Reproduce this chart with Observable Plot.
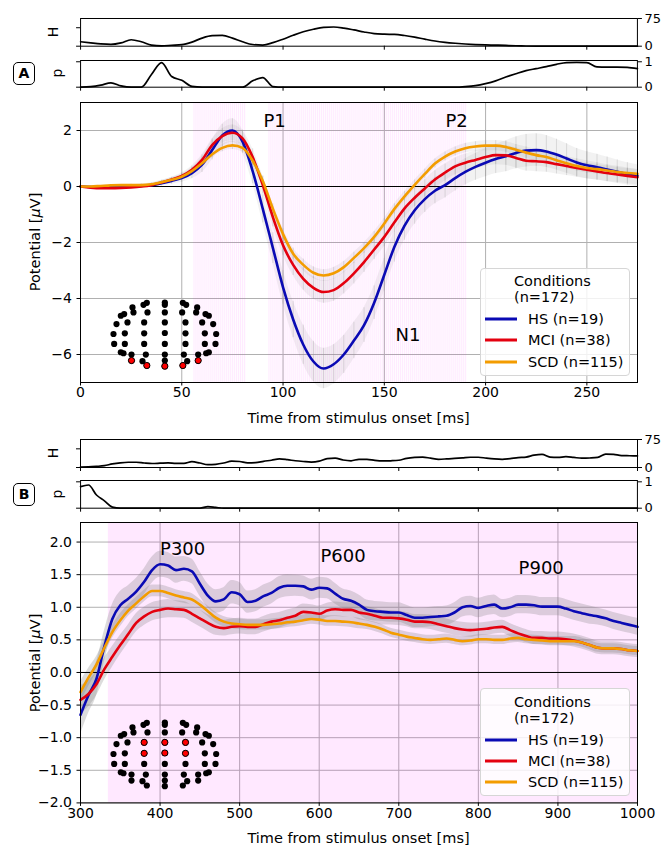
<!DOCTYPE html>
<html><head><meta charset="utf-8">
<script src="https://cdn.jsdelivr.net/npm/d3@7"></script>
<script src="https://cdn.jsdelivr.net/npm/@observablehq/plot@0.6"></script>
<style>
body{margin:0;background:#fff;font-family:"DejaVu Sans",sans-serif;color:#000;}
#root{position:relative;width:665px;height:847px;overflow:hidden;background:#fff;}
.abs{position:absolute;}
.rot{position:absolute;transform:translate(-50%,-50%) rotate(-90deg);white-space:nowrap;line-height:1;}
.hl{position:absolute;transform:translate(-50%,-50%);white-space:nowrap;line-height:1;}
.box{position:absolute;border:1.5px solid #000;border-radius:5px;font-weight:bold;font-size:14px;text-align:center;box-sizing:border-box;}
.leg{position:absolute;background:rgba(255,255,255,0.82);border:1px solid #d6d6d6;border-radius:4px;box-sizing:border-box;font-size:14.5px;}
.leg div{position:absolute;white-space:nowrap;line-height:1;transform:translateY(-50%);}
.leg span.h{position:absolute;height:3px;transform:translateY(-50%);}
</style></head>
<body><div id="root"></div>
<script>
// ---------------- data ----------------
const groups = ["HS (n=19)", "MCI (n=38)", "SCD (n=115)"];
const colors = ["#0a0ab4", "#e4000f", "#f39c00"];
const nTotal = "(n=172)";

// Panel A (early ERP)
const tA = [0,5,10,15,20,25,30,35,40,45,50,55,60,65,70,75,80,85,90,95,100,105,110,115,120,125,130,135,140,145,150,155,160,165,170,175,180,185,190,195,200,205,210,215,220,225,230,235,240,245,250,255,260,265,270,275];
const hsA  = [0,-0.02,-0.03,-0.03,-0.02,0,0.02,0.05,0.12,0.2, 0.3,0.48,0.78,1.3,1.82,2.0,1.6,0.55,-0.8,-2.2, -3.6,-4.75,-5.65,-6.25,-6.5,-6.35,-6.0,-5.5,-4.95,-4.15, -3.15,-2.15,-1.4,-0.85,-0.45,-0.15,0.05,0.3,0.52,0.7, 0.85,0.98,1.08,1.2,1.28,1.3,1.25,1.14,1.0,0.86, 0.76,0.69,0.61,0.53,0.45,0.38];
const mciA = [0,-0.04,-0.06,-0.06,-0.05,-0.03,0,0.05,0.14,0.25, 0.38,0.6,0.95,1.48,1.8,1.92,1.72,1.05,0.05,-1.1, -2.1,-2.8,-3.3,-3.62,-3.77,-3.7,-3.45,-3.1,-2.7,-2.25, -1.8,-1.28,-0.78,-0.4,-0.07,0.25,0.5,0.72,0.85,0.95, 1.05,1.12,1.11,1.02,0.92,0.9,0.87,0.8,0.73,0.66, 0.6,0.54,0.48,0.43,0.38,0.33];
const scdA = [0,0,0.02,0.04,0.05,0.05,0.05,0.08,0.15,0.24, 0.35,0.55,0.83,1.15,1.38,1.47,1.38,0.92,0.2,-0.8, -1.7,-2.4,-2.8,-3.08,-3.18,-3.1,-2.88,-2.55,-2.2,-1.8, -1.32,-0.8,-0.35,0.06,0.45,0.82,1.07,1.25,1.37,1.43, 1.46,1.46,1.41,1.31,1.21,1.12,1.05,0.94,0.83,0.73, 0.66,0.62,0.57,0.52,0.48,0.45];
const semHsA  = [0.03,0.04,0.05,0.05,0.06,0.06,0.07,0.08,0.1,0.12, 0.15,0.2,0.28,0.35,0.4,0.42,0.42,0.45,0.5,0.55, 0.6,0.65,0.7,0.72,0.72,0.7,0.68,0.65,0.62,0.6, 0.58,0.55,0.52,0.5,0.48,0.47,0.46,0.46,0.47,0.48, 0.5,0.52,0.55,0.57,0.58,0.58,0.57,0.55,0.53,0.5, 0.48,0.46,0.44,0.42,0.4,0.4];
const semMciA = [0.02,0.03,0.03,0.03,0.04,0.04,0.05,0.05,0.07,0.08, 0.1,0.13,0.18,0.22,0.26,0.28,0.28,0.3,0.32,0.34, 0.36,0.38,0.4,0.4,0.4,0.4,0.39,0.38,0.37,0.36, 0.35,0.34,0.33,0.32,0.31,0.31,0.3,0.3,0.31,0.32, 0.33,0.34,0.35,0.36,0.37,0.37,0.36,0.35,0.34,0.33, 0.32,0.31,0.3,0.29,0.28,0.28];
const semScdA = [0.01,0.02,0.02,0.02,0.02,0.03,0.03,0.03,0.04,0.05, 0.06,0.08,0.1,0.12,0.14,0.15,0.15,0.16,0.17,0.18, 0.19,0.2,0.21,0.21,0.21,0.21,0.2,0.2,0.19,0.19, 0.18,0.18,0.17,0.17,0.17,0.16,0.16,0.16,0.17,0.17, 0.18,0.18,0.19,0.19,0.2,0.2,0.2,0.19,0.19,0.18, 0.18,0.17,0.17,0.16,0.16,0.16];
const hA = [12,9,6.3,5,9,17.5,12,3,1,2.5, 4,11,22,28.5,29.2,22,12,4.5,3,9.5, 19,29.5,39,46,51,52,49,44,38.5,34, 32.5,32,29,24.5,19,14,10.5,8,6,4.5, 3.5,2.8,2,1.2,0.5,0.2,0,0,0,0, 0,0,0,0,0,0];
const pA = [0,0.02,0.08,0.17,0.05,0,0,0.5,0.97,0.42, 0.27,0.03,0,0,0,0,0,0.25,0.38,0.02, 0,0,0,0,0,0,0,0,0,0, 0,0,0,0,0,0,0,0,0.02,0.06, 0.14,0.25,0.4,0.53,0.65,0.73,0.81,0.9,0.97,0.98, 0.97,0.8,0.79,0.79,0.78,0.73];
const sigStartA = [56, 93];
const sigEndA = [82, 191];
const annTextA = ["P1", "P2", "N1"];
const annXA = [90.3, 180.2, 155.5];
const annYA = [2.32, 2.32, -5.32];

// Panel B (late ERP)
const tB = [300,310,320,330,340,350,360,370,380,390,400,410,420,430,440,450,460,470,480,490,500,510,520,530,540,550,560,570,580,590,600,610,620,630,640,650,660,670,680,690,700,710,720,730,740,750,760,770,780,790,800,810,820,830,840,850,860,870,880,890,900,910,920,930,940,950,960,970,980,990,1000];
const hsB  = [-0.65,-0.35,-0.1,0.4,0.82,1.03,1.13,1.24,1.39,1.57, 1.66,1.64,1.57,1.59,1.55,1.36,1.18,1.09,1.12,1.23, 1.2,1.08,1.1,1.17,1.22,1.3,1.33,1.33,1.32,1.27, 1.3,1.29,1.21,1.13,1.1,1.04,0.96,0.94,0.93,0.92, 0.92,0.88,0.84,0.84,0.85,0.86,0.87,0.92,1.0,1.02, 0.99,1.02,1.04,0.98,1.0,1.04,1.04,1.03,1.01,1.01, 1.01,0.98,0.94,0.91,0.88,0.86,0.83,0.79,0.76,0.73, 0.7];
const mciB = [-0.42,-0.33,-0.18,0.05,0.24,0.42,0.59,0.76,0.86,0.93, 0.96,0.98,0.97,0.96,0.9,0.83,0.76,0.7,0.68,0.7, 0.71,0.7,0.7,0.74,0.78,0.8,0.84,0.87,0.93,0.92, 0.9,0.95,0.97,0.96,0.96,0.92,0.9,0.87,0.84,0.84, 0.83,0.81,0.78,0.78,0.77,0.74,0.71,0.68,0.66,0.65, 0.66,0.67,0.69,0.7,0.65,0.6,0.56,0.53,0.53,0.52, 0.52,0.51,0.49,0.46,0.42,0.38,0.37,0.37,0.36,0.34, 0.33];
const scdB = [-0.3,-0.08,0.12,0.38,0.62,0.8,0.95,1.06,1.17,1.25, 1.25,1.22,1.18,1.15,1.12,1.04,0.94,0.84,0.78,0.75, 0.74,0.73,0.73,0.73,0.74,0.75,0.77,0.78,0.8,0.82, 0.81,0.79,0.79,0.78,0.77,0.75,0.73,0.7,0.66,0.61, 0.58,0.55,0.53,0.51,0.5,0.51,0.52,0.5,0.48,0.49, 0.51,0.51,0.5,0.5,0.52,0.53,0.51,0.5,0.49,0.48, 0.48,0.48,0.48,0.46,0.42,0.38,0.37,0.37,0.36,0.34, 0.33];
const semHsB  = [0.3,0.28,0.26,0.24,0.22,0.21,0.2,0.2,0.2,0.2, 0.2,0.2,0.2,0.19,0.19,0.19,0.18,0.18,0.18,0.18, 0.18,0.17,0.17,0.17,0.17,0.17,0.17,0.16,0.16,0.16, 0.16,0.16,0.16,0.15,0.15,0.15,0.15,0.15,0.15,0.15, 0.15,0.15,0.15,0.15,0.15,0.15,0.15,0.15,0.15,0.15, 0.15,0.15,0.15,0.14,0.14,0.14,0.14,0.14,0.14,0.14, 0.14,0.14,0.14,0.14,0.14,0.13,0.13,0.13,0.13,0.13, 0.13];
const semMciB = [0.22,0.2,0.18,0.17,0.16,0.15,0.14,0.14,0.14,0.14, 0.14,0.14,0.13,0.13,0.13,0.13,0.13,0.13,0.12,0.12, 0.12,0.12,0.12,0.12,0.12,0.12,0.12,0.12,0.12,0.12, 0.12,0.11,0.11,0.11,0.11,0.11,0.11,0.11,0.11,0.11, 0.11,0.11,0.11,0.11,0.11,0.11,0.11,0.11,0.11,0.11, 0.1,0.1,0.1,0.1,0.1,0.1,0.1,0.1,0.1,0.1, 0.1,0.1,0.1,0.1,0.1,0.1,0.1,0.1,0.1,0.1, 0.1];
const semScdB = [0.16,0.14,0.12,0.11,0.1,0.1,0.09,0.09,0.09,0.09, 0.09,0.09,0.09,0.09,0.09,0.08,0.08,0.08,0.08,0.08, 0.08,0.08,0.08,0.08,0.08,0.08,0.08,0.08,0.08,0.08, 0.08,0.08,0.08,0.08,0.08,0.08,0.07,0.07,0.07,0.07, 0.07,0.07,0.07,0.07,0.07,0.07,0.07,0.07,0.07,0.07, 0.07,0.07,0.07,0.07,0.07,0.07,0.07,0.07,0.07,0.07, 0.07,0.07,0.07,0.07,0.07,0.07,0.07,0.07,0.07,0.07, 0.07];
const hB = [1,1.5,3,5,9.5,12.5,14,14,12,10.7, 11.5,12.5,11,11,15.5,12,7.5,8.5,12,17, 16,12.5,13,16.5,19.5,23,21,18,16,14.5, 17,24,25,20,18,22,22,19,17.5,18, 19.5,24.5,27,28,25,22,23,24.5,26,27.5, 27.5,25,23,22,24,26.5,28,33,35,28, 27,29,27,25,25.5,27,36,35,32,31.5, 31];
const pB = [0.82,0.88,0.5,0.28,0.04,0,0,0,0,0, 0,0,0,0,0,0,0.06,0.03,0,0, 0,0,0,0,0,0,0,0,0,0, 0,0,0,0,0,0,0,0,0,0, 0,0,0,0,0,0,0,0,0,0, 0,0,0,0,0,0,0,0,0,0, 0,0,0,0,0,0,0,0,0,0, 0];
const sigStartB = [335];
const sigEndB = [1000];
const annTextB = ["P300", "P600", "P900"];
const annXB = [400, 601.5, 850.6];
const annYB = [1.89, 1.79, 1.6];

// Electrode layout (schematic head, arbitrary units, y downwards)
const elecX = [312,312,312,312,312,312,312,312,312, 258,248,260,215,218,190,180,200,250,167,158,192,250,160,192,250,180,188,212,255,212,245,258, 366,376,364,409,406,434,444,424,374,457,466,432,374,464,432,374,444,436,412,369,412,379,366];
const elecY = [65,72,95,125,157,190,222,240,257, 66,72,95,80,95,100,105,125,125,130,160,158,158,190,190,190,215,218,222,222,240,242,255, 66,72,95,80,95,100,105,125,125,130,160,158,158,190,190,190,215,218,222,222,240,242,255];
const redAX = [212,258,312,366,412];
const redAY = [240,255,257,255,240];
const redBX = [250,312,374,250,312,374];
const redBY = [125,125,125,158,157,158];

// ---------------- helpers ----------------
const FONT = "DejaVu Sans";
const plain = d => String(d);
const root = document.getElementById("root");
function place(node, left, top) {
  const d = document.createElement("div");
  d.className = "abs"; d.style.left = left + "px"; d.style.top = top + "px";
  d.appendChild(node); root.appendChild(d); return d;
}
function addHTML(html) { root.insertAdjacentHTML("beforeend", html); }
function longRows(t, series, sems) {
  const out = [];
  groups.forEach((g, i) => t.forEach((x, j) => out.push({t: x, v: series[i][j], lo: series[i][j] - sems[i][j], hi: series[i][j] + sems[i][j], g})));
  return out;
}

function mainPlot(o) {
  const data = longRows(o.t, o.series, o.sems);
  const sig = o.sigStart.map((s, i) => ({s, e: o.sigEnd[i]}));
  const ann = o.annText.map((s, i) => ({s, x: o.annX[i], y: o.annY[i]}));
  const mt = 10, mb = 30;
  const marks = [
    Plot.gridX({ticks: o.xTicks, stroke: "#b0b0b0", strokeOpacity: 1, strokeWidth: 1}),
    Plot.gridY({ticks: o.yTicks, stroke: "#b0b0b0", strokeOpacity: 1, strokeWidth: 1}),
    Plot.rectX(sig, {x1: "s", x2: "e", fill: "#ff00ff", fillOpacity: o.sigOpacity})
  ];
  if (o.stripes) {
    const st = sig.flatMap(d => d3.range(d.s, d.e, 1));
    marks.push(Plot.ruleX(st, {stroke: "#ff00ff", strokeOpacity: 0.065, strokeWidth: 1}));
  }
  marks.push(
    Plot.areaY(data, {x: "t", y1: "lo", y2: "hi", z: "g", fill: "#808080", fillOpacity: o.bandOpacity, curve: "monotone-x"})
  );
  if (o.errRules) marks.push(Plot.ruleX(data, {x: "t", y1: "lo", y2: "hi", stroke: "#9a9a9a", strokeOpacity: 0.3, strokeWidth: 1}));
  marks.push(
    Plot.ruleY([0], {stroke: "#000", strokeWidth: 1}),
    Plot.line(data, {x: "t", y: "v", z: "g", stroke: "g", strokeWidth: 2.6, curve: "monotone-x"}),
    Plot.text(ann, {x: "x", y: "y", text: "s", textAnchor: "start", fontSize: 18, fill: "#000"}),
    Plot.frame({stroke: "#000", strokeWidth: 1}),
    Plot.axisX({ticks: o.xTicks, tickSize: 3.5, tickPadding: 1.5, label: null, fontSize: 14, tickFormat: plain}),
    Plot.axisY({ticks: o.yTicks, tickSize: 3.5, tickPadding: 5, label: null, fontSize: 14, tickFormat: o.yFormat})
  );
  const svg = Plot.plot({
    width: 665, height: mt + (o.fb - o.ft) + mb,
    marginLeft: 80, marginRight: 28, marginTop: mt, marginBottom: mb,
    style: {fontFamily: FONT, fontSize: "14px", background: "transparent", overflow: "visible", color: "#000"},
    x: {domain: o.xDomain}, y: {domain: o.yDomain},
    color: {domain: groups, range: colors},
    marks
  });
  place(svg, 0, o.ft - mt);
}

function stripPlot(o) {
  const data = o.t.map((x, i) => ({t: x, v: o.values[i]}));
  const mt = 10, mb = 8;
  const svg = Plot.plot({
    width: 665, height: mt + (o.fb - o.ft) + mb,
    marginLeft: 80, marginRight: 28, marginTop: mt, marginBottom: mb,
    style: {fontFamily: FONT, fontSize: "13px", background: "transparent", overflow: "visible", color: "#000"},
    x: {domain: o.xDomain}, y: {domain: o.yDomain},
    marks: [
      Plot.line(data, {x: "t", y: "v", stroke: "#000", strokeWidth: 1.7, curve: "monotone-x"}),
      Plot.frame({stroke: "#000", strokeWidth: 1}),
      Plot.axisX({ticks: o.xTicks, tickSize: 4, tickFormat: () => "", label: null}),
      Plot.axisY({ticks: o.leftTicks, anchor: "left", tickSize: 4, tickFormat: () => "", label: null}),
      Plot.axisY({ticks: o.rightTicks, anchor: "right", tickSize: 4, tickPadding: 3, label: null, fontSize: 13, tickFormat: plain})
    ]
  });
  place(svg, 0, o.ft - mt);
}

function headPlot(left, top, redX, redY) {
  const all = elecX.map((x, i) => ({x, y: elecY[i]}));
  const red = redX.map((x, i) => ({x, y: redY[i]}));
  const svg = Plot.plot({
    width: 115, height: 73, margin: 0,
    style: {background: "transparent", overflow: "visible"},
    x: {domain: [140, 485], axis: null},
    y: {domain: [50, 270], reverse: true, axis: null},
    marks: [
      Plot.dot(all, {x: "x", y: "y", r: 3.1, fill: "#000"}),
      Plot.dot(red, {x: "x", y: "y", r: 3.1, fill: "#ff0000", stroke: "#000", strokeWidth: 1})
    ]
  });
  place(svg, left, top);
}

function legend(left, top) {
  const rowsY = [50.3, 71.7, 93.2];
  let h = `<div class="leg" style="left:${left}px;top:${top}px;width:150px;height:108px">`;
  h += `<div style="left:33px;top:12.3px">Conditions</div><div style="left:33px;top:28.8px">${nTotal}</div>`;
  groups.forEach((g, i) => {
    h += `<span class="h" style="left:4px;top:${rowsY[i]}px;width:32px;background:${colors[i]}"></span>`;
    h += `<div style="left:47px;top:${rowsY[i]}px">${g}</div>`;
  });
  h += `</div>`;
  addHTML(h);
}

// ---------------- Panel A ----------------
stripPlot({t: tA, values: hA, xDomain: [0, 275], xTicks: [0,50,100,150,200,250], yDomain: [0, 75], leftTicks: [0, 50], rightTicks: [0, 75], ft: 18.3, fb: 46});
stripPlot({t: tA, values: pA, xDomain: [0, 275], xTicks: [0,50,100,150,200,250], yDomain: [0, 1.05], leftTicks: [0, 1], rightTicks: [0, 1], ft: 60, fb: 86.7});
mainPlot({t: tA, series: [hsA, mciA, scdA], sems: [semHsA, semMciA, semScdA],
  xDomain: [0, 275], xTicks: [0,50,100,150,200,250], yDomain: [-7, 3], yTicks: [-6,-4,-2,0,2], yFormat: undefined,
  sigStart: sigStartA, sigEnd: sigEndA, sigOpacity: 0.015, stripes: true, bandOpacity: 0.1, errRules: true,
  annText: annTextA, annX: annXA, annY: annYA, ft: 102.3, fb: 382.3});
headPlot(106.7, 296.7, redAX, redAY);
legend(480, 267.7);

// ---------------- Panel B ----------------
stripPlot({t: tB, values: hB, xDomain: [300, 1000], xTicks: [300,400,500,600,700,800,900,1000], yDomain: [0, 75], leftTicks: [0, 50], rightTicks: [0, 75], ft: 438.7, fb: 466.7});
stripPlot({t: tB, values: pB, xDomain: [300, 1000], xTicks: [300,400,500,600,700,800,900,1000], yDomain: [0, 1.05], leftTicks: [0, 1], rightTicks: [0, 1], ft: 480.3, fb: 508});
mainPlot({t: tB, series: [hsB, mciB, scdB], sems: [semHsB, semMciB, semScdB],
  xDomain: [300, 1000], xTicks: [300,400,500,600,700,800,900,1000], yDomain: [-2, 2.3], yTicks: [-2,-1.5,-1,-0.5,0,0.5,1,1.5,2], yFormat: d3.format(".1f"),
  sigStart: sigStartB, sigEnd: sigEndB, sigOpacity: 0.09, stripes: false, bandOpacity: 0.28, errRules: false,
  annText: annTextB, annX: annXB, annY: annYB, ft: 522.3, fb: 802.7});
headPlot(106.7, 716.7, redBX, redBY);
legend(480, 688.3);

// ---------------- text labels ----------------
addHTML(`<div class="rot" style="left:53px;top:32px;font-size:14px">H</div>`);
addHTML(`<div class="rot" style="left:57px;top:73.3px;font-size:14px">p</div>`);
addHTML(`<div class="rot" style="left:53px;top:452.7px;font-size:14px">H</div>`);
addHTML(`<div class="rot" style="left:57px;top:494.2px;font-size:14px">p</div>`);
addHTML(`<div class="box" style="left:13px;top:62px;width:22px;height:23px;line-height:20px">A</div>`);
addHTML(`<div class="box" style="left:13px;top:483px;width:22px;height:23px;line-height:20px">B</div>`);
addHTML(`<div class="rot" style="left:35px;top:242px;font-size:14.5px">Potential [<i>μ</i>V]</div>`);
addHTML(`<div class="rot" style="left:35px;top:662.5px;font-size:14.5px">Potential [<i>μ</i>V]</div>`);
addHTML(`<div class="hl" style="left:358.5px;top:418px;font-size:14.5px">Time from stimulus onset [ms]</div>`);
addHTML(`<div class="hl" style="left:358.5px;top:838px;font-size:14.5px">Time from stimulus onset [ms]</div>`);
</script>
</body></html>
